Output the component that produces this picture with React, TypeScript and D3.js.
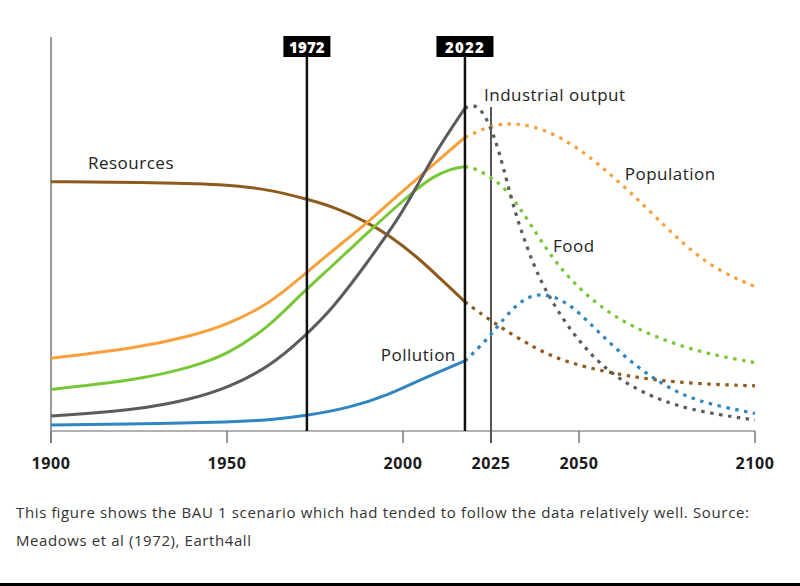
import React from "react";
import * as d3 from "d3";

const W = 800;
const H = 586;

const xTicks = [1900, 1950, 2000, 2025, 2050, 2100];
const SPLIT = 2017.6; // where the "2022" marker line is drawn in the figure

const resources: [number, number][] = [
  [1900, 62.3], [1925, 62.2], [1950, 61.7], [1962.2, 60.3], [1972.6, 58], [1980.2, 56.1],
  [1989.7, 52.3], [1996.3, 48.75], [2003.9, 43.6], [2010.5, 38.2], [2017.6, 32.3],
  [2025.2, 27.3], [2038, 20.3], [2047.4, 16.9], [2059.7, 14.4], [2071, 12.75], [2085, 11.7], [2100, 11.3],
];
const population: [number, number][] = [
  [1900, 18.2], [1925, 20.8], [1940, 23.8], [1950, 26.5], [1962.2, 31.9], [1970.7, 38.2],
  [1980.2, 45.25], [1989.7, 51.9], [1999.1, 59.4], [2008.6, 66.5], [2013.4, 70.25], [2017.6, 73.4],
  [2025, 76.5], [2032.3, 77.1], [2040.8, 75.25], [2049.3, 71.1], [2056.9, 65.7], [2064.5, 59.8],
  [2072.1, 53.2], [2080.6, 45.9], [2090, 39.8], [2100, 36.1],
];
const food: [number, number][] = [
  [1900, 10.4], [1925, 12.8], [1940, 16.0], [1950, 19.0], [1962.2, 26.2], [1970.7, 34],
  [1980.2, 41.5], [1989.7, 49.4], [1999.1, 56.9], [2003.9, 60.5], [2008.6, 63.6], [2013.4, 65.5],
  [2017.6, 66.1],
  [2020, 65.8], [2025.7, 63.2], [2030.4, 59.4], [2036.1, 51.9], [2042.7, 42.75], [2050.3, 35.25],
  [2059.7, 28.6], [2071.1, 23.6], [2085.3, 19.4], [2100, 17.1],
];
const industrial: [number, number][] = [
  [1900, 3.75], [1925, 5.3], [1940, 8.0], [1950, 10.7], [1962.2, 16.1], [1972, 23.6],
  [1980.2, 30.8], [1989.7, 41.9], [1999.1, 53.6], [2003.9, 61.1], [2009.6, 70.25], [2017.6, 80.7],
  [2020, 81.8], [2022.8, 79.8], [2025.7, 74.4], [2028.5, 66.1], [2031.3, 56.1], [2035.1, 46.1],
  [2038.9, 37.75], [2043.7, 30.25], [2050.3, 21.9], [2058.8, 14.4], [2068.3, 9.4], [2080.6, 5.25], [2100, 2.75],
];
const pollution: [number, number][] = [
  [1900, 1.5], [1933.8, 1.9], [1950, 2.2], [1962.2, 2.75], [1972, 3.75], [1985, 5.8], [1996.3, 9.2],
  [2003.9, 12.4], [2011.5, 15.3], [2017.6, 17.5],
  [2021.9, 21.1], [2026.1, 25.25], [2029.5, 29], [2034.2, 33.2], [2039.9, 34.6], [2046.5, 32.3],
  [2052.2, 27.75], [2058.8, 21.9], [2066.4, 16.1], [2074, 11.5], [2083.4, 7.3], [2100, 4.4],
];

const seriesNames = ["Resources", "Population", "Food", "Industrial output", "Pollution"];
const seriesData = [resources, population, food, industrial, pollution];
const seriesColors = ["#8d5b1c", "#f7a03c", "#78c736", "#5c5c5c", "#2f86c0"];
// label anchor (year, value) for each series name
const labelPos: [number, number][] = [
  [1910.5, 66.75], [2063, 64], [2042.6, 46], [2023, 83.75], [1993.7, 18.75],
];

const markers = [
  { label: "1972", year: 1972.7 },
  { label: "2022", year: 2017.6 },
];
const thinMarker = 2025;

const captionLines = [
  "This figure shows the BAU 1 scenario which had tended to follow the data relatively well. Source:",
  "Meadows et al (1972), Earth4all",
];
const captionWidths = [733, 235];

export default function App() {
  const x = d3.scaleLinear().domain([1900, 2100]).range([51, 755]);
  const y = d3.scaleLinear().domain([0, 100]).range([431, 31]);
  const line = d3
    .line<[number, number]>()
    .x((d) => x(d[0]))
    .y((d) => y(d[1]))
    .curve(d3.curveBasis);

  const font = "'Open Sans', sans-serif";

  return (
    <svg
      width={W}
      height={H}
      style={{ position: "absolute", left: 0, top: 0, background: "#fff" }}
    >
      {/* axes */}
      <line x1={x(1900)} x2={x(1900)} y1={37} y2={443} stroke="#777" strokeWidth={1.5} />
      <line x1={x(1900)} x2={x(2100)} y1={y(0)} y2={y(0)} stroke="#999" strokeWidth={1.5} />
      {xTicks.map((t) => (
        <g key={t}>
          <line x1={x(t)} x2={x(t)} y1={y(0)} y2={443} stroke="#777" strokeWidth={1.5} />
          <text
            x={x(t)}
            y={469}
            textAnchor="middle"
            fontFamily={font}
            fontWeight={700}
            fontSize={16}
            letterSpacing={0.6}
            fill="#1a1a1a"
          >
            {t}
          </text>
        </g>
      ))}

      {/* thin 2025 marker */}
      <line x1={x(thinMarker)} x2={x(thinMarker)} y1={107} y2={443} stroke="#555" strokeWidth={2} />

      {/* series */}
      {seriesData.map((data, i) => {
        const solid = data.filter((d) => d[0] <= SPLIT);
        const dotted = data.filter((d) => d[0] >= SPLIT);
        return (
          <g key={seriesNames[i]}>
            <path d={line(solid) || ""} fill="none" stroke={seriesColors[i]} strokeWidth={3} />
            <path
              d={line(dotted) || ""}
              fill="none"
              stroke={seriesColors[i]}
              strokeWidth={3.2}
              strokeDasharray="3.5 5.5"
            />
          </g>
        );
      })}

      {/* marker lines */}
      {markers.map((m) => (
        <g key={m.label}>
          <line x1={x(m.year)} x2={x(m.year)} y1={57} y2={y(0)} stroke="#111" strokeWidth={2.5} />
          <rect
            x={x(m.year) - (m.label === "2022" ? 28.5 : 23.5)}
            y={36}
            width={m.label === "2022" ? 57 : 47}
            height={21}
            fill="#000"
          />
          <text
            x={x(m.year)}
            y={52.5}
            textAnchor="middle"
            fontFamily={font}
            fontWeight={800}
            fontSize={15}
            letterSpacing={m.label === "2022" ? 1.2 : 0.2}
            fill="#fff"
          >
            {m.label}
          </text>
        </g>
      ))}

      {/* series labels */}
      {seriesNames.map((n, i) => (
        <text
          key={n}
          x={x(labelPos[i][0])}
          y={y(labelPos[i][1])}
          fontFamily={font}
          fontSize={17}
          letterSpacing={0.5}
          fill="#222"
          dominantBaseline="middle"
        >
          {n}
        </text>
      ))}

      {/* caption */}
      {captionLines.map((c, i) => (
        <text
          key={i}
          x={16}
          y={518 + i * 28}
          fontFamily={font}
          fontSize={15}
          fill="#333"
          textLength={captionWidths[i]}
          lengthAdjust="spacing"
        >
          {c}
        </text>
      ))}

      <rect x={0} y={583} width={W} height={3} fill="#000" />
    </svg>
  );
}
